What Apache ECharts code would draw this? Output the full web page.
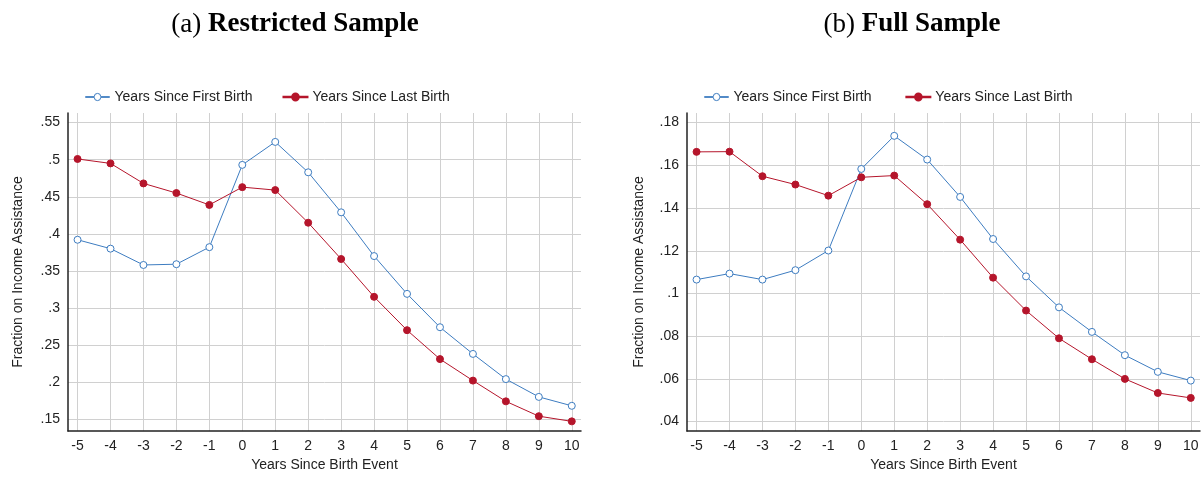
<!DOCTYPE html>
<html><head><meta charset="utf-8">
<script src="https://cdn.jsdelivr.net/npm/echarts@6/dist/echarts.min.js"></script>
<style>body{margin:0;background:#fff}#chart{width:1204px;height:481px}</style>
</head><body><div id="chart"></div>
<script>
var years=[-5,-4,-3,-2,-1,0,1,2,3,4,5,6,7,8,9,10];
// (a) restricted sample
var firstA=[.392,.380,.358,.359,.382,.493,.524,.483,.429,.370,.319,.274,.238,.204,.180,.168];
var lastA=[.501,.495,.468,.455,.439,.463,.459,.415,.366,.315,.270,.231,.202,.174,.154,.147];
var ticksA=[.15,.2,.25,.3,.35,.4,.45,.5,.55];
// (b) full sample
var firstB=[.1065,.1093,.1065,.1109,.1201,.1583,.1738,.1627,.1452,.1255,.1080,.0935,.0820,.0711,.0633,.0592];
var lastB=[.1663,.1664,.1549,.1510,.1458,.1544,.1552,.1418,.1252,.1074,.0920,.0790,.0692,.0600,.0534,.0511];
var ticksB=[.04,.06,.08,.1,.12,.14,.16,.18];

var blue="#3d7cc0",red="#b5152b";
var fnt="Liberation Sans, Arial, sans-serif";
function pairs(v){return years.map(function(y,i){return [y,v[i]]});}
function fmt(v){var s=String(+v.toFixed(3));return s.replace(/^0\./,".");}
function xAx(i){return {type:"value",gridIndex:i,min:-5.29,max:10.28,
    name:"Years Since Birth Event",nameLocation:"middle",nameGap:25,
    nameTextStyle:{fontFamily:fnt,fontSize:14,color:"#222"},
    axisLine:{show:true,onZero:false,lineStyle:{color:"#222",width:1.5}},
    axisTick:{show:false,customValues:years},
    axisLabel:{customValues:years,fontFamily:fnt,fontSize:14,color:"#222",margin:8},
    splitLine:{show:true,lineStyle:{color:"#d0d0d0"}}};}
function yAx(i,min,max,ticks){return {type:"value",gridIndex:i,min:min,max:max,
    name:"Fraction on Income Assistance",nameLocation:"middle",nameGap:i?41:43,
    nameTextStyle:{fontFamily:fnt,fontSize:14,color:"#222"},
    axisLine:{show:true,onZero:false,lineStyle:{color:"#222",width:1.5}},
    axisTick:{show:false,customValues:ticks},
    axisLabel:{customValues:ticks,formatter:fmt,fontFamily:fnt,fontSize:14,color:"#222",margin:8},
    splitLine:{show:true,lineStyle:{color:"#d0d0d0"}}};}
function ser(name,data,i,filled){var c=filled?red:blue;return {name:name,type:"line",xAxisIndex:i,yAxisIndex:i,
    data:pairs(data),symbol:"circle",symbolSize:7,
    itemStyle:{color:filled?red:"#fff",borderColor:c,borderWidth:1},
    lineStyle:{color:c,width:1},emphasis:{disabled:true}};}
var leg={icon:"path://M0,4.6L9.5,4.6A3.5,3.5,0,1,1,16.5,4.6L26,4.6L26,5.4L16.5,5.4A3.5,3.5,0,1,1,9.5,5.4L0,5.4Z",itemWidth:24,itemHeight:8,itemGap:30,
    textStyle:{fontFamily:fnt,fontSize:14,color:"#222"}};
var tStyle={fontWeight:"normal",rich:{n:{fontFamily:"Liberation Serif",fontSize:27,fontWeight:"normal",color:"#000"},b:{fontFamily:"Liberation Serif",fontSize:27,fontWeight:"bold",color:"#000"}}};
var chart=echarts.init(document.getElementById("chart"));
chart.setOption({
  animation:false,
  title:[{text:"{n|(a) }{b|Restricted Sample}",left:290,top:6,textAlign:"center",textStyle:tStyle},
         {text:"{n|(b) }{b|Full Sample}",left:907,top:6,textAlign:"center",textStyle:tStyle}],
  legend:[Object.assign({left:80,top:85,data:[{name:"Years Since First Birth",itemStyle:{color:"#fff",borderColor:blue,borderWidth:1}},{name:"Years Since Last Birth",itemStyle:{color:red}}]},leg),
          Object.assign({left:699,top:85,data:[{name:"Years Since First Birth ",itemStyle:{color:"#fff",borderColor:blue,borderWidth:1}},{name:"Years Since Last Birth ",itemStyle:{color:red}}]},leg)],
  grid:[{left:68,right:623,top:113,bottom:50},{left:687,right:4,top:113,bottom:50}],
  xAxis:[xAx(0),xAx(1)],
  yAxis:[yAx(0,.134,.563,ticksA),yAx(1,.0356,.1845,ticksB)],
  series:[ser("Years Since First Birth",firstA,0,false),ser("Years Since Last Birth",lastA,0,true),
          ser("Years Since First Birth ",firstB,1,false),ser("Years Since Last Birth ",lastB,1,true)]
});
</script></body></html>
